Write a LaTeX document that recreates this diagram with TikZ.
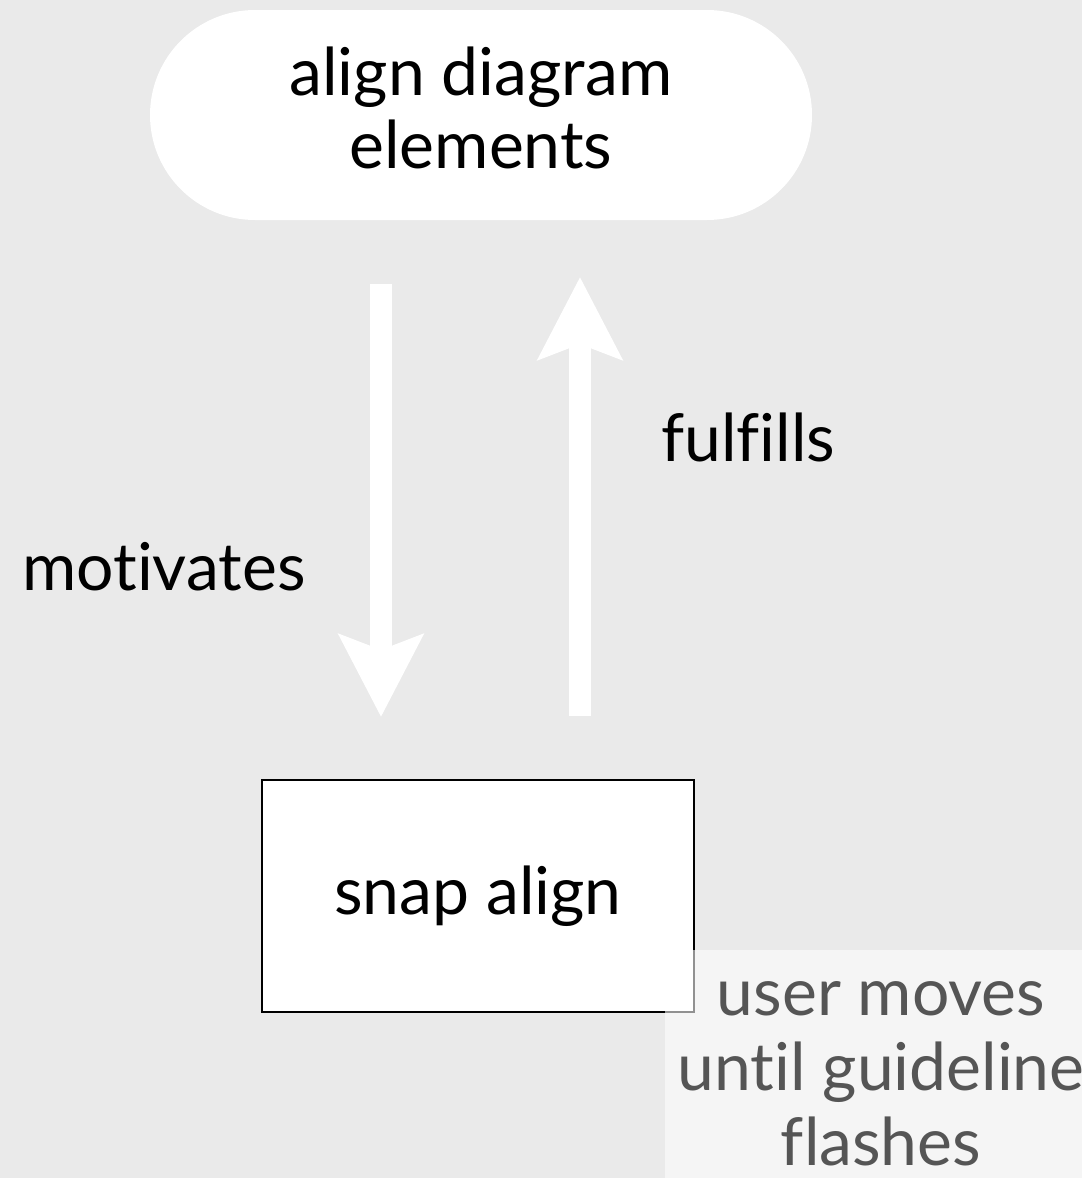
\documentclass[tikz,border=0pt]{standalone}
\usepackage{fontspec}
\setmainfont[Ligatures=CommonOff]{Lato}
\usetikzlibrary{arrows.meta,calc}
\definecolor{bg}{HTML}{EAEAEA}
\definecolor{notegrey}{HTML}{555555}
\tikzset{
  bigfont/.style={font=\fontsize{66}{73}\selectfont},
  pill/.style={fill=white, rounded corners=105pt, minimum width=662pt, minimum height=210pt, inner sep=0pt},
  pilltext/.style={bigfont, text=black, align=center, inner sep=0pt},
  boxnode/.style={fill=white, draw=black, line width=2pt, minimum width=432pt, minimum height=232pt, bigfont, inner sep=0pt},
  bigarrow/.style={draw=white, line width=22pt, -{Stealth[length=82pt,width=83pt,inset=15pt]}},
  lbl/.style={bigfont, text=black, inner sep=0pt},
  notebox/.style={fill=white, fill opacity=0.57, draw=none, anchor=north west, minimum width=430pt, minimum height=240pt, inner sep=0pt},
  notetext/.style={font=\fontsize{66}{75}\selectfont, text=notegrey, align=center, inner sep=0pt},
}
\begin{document}
\begin{tikzpicture}[x=1pt,y=-1pt]
\fill[bg] (0,0) rectangle (1082,1178);
\useasboundingbox (0,0) rectangle (1082,1178);
\node[pill] (goal) at (481,115) {};
\node[pilltext] (goaltext) at (481,108) {align diagram\\elements};
\node[boxnode] (snap) at (478,896) {snap align};
\coordinate (dstart) at (381,284);
\coordinate (dend) at (381,717);
\coordinate (ustart) at (580,716);
\coordinate (uend) at (580,277);
\draw[bigarrow] (dstart) -- (dend);
\draw[bigarrow] (ustart) -- (uend);
\node[lbl, anchor=west] (motiv) at (22,567) {motivates};
\node[lbl, anchor=west] (fulf) at (661,437) {fulfills};
\node[notebox] (note) at (665,950) {};
\node[notetext] (notet) at (881,1074) {user moves\\until guideline\\flashes};
\end{tikzpicture}
\end{document}
